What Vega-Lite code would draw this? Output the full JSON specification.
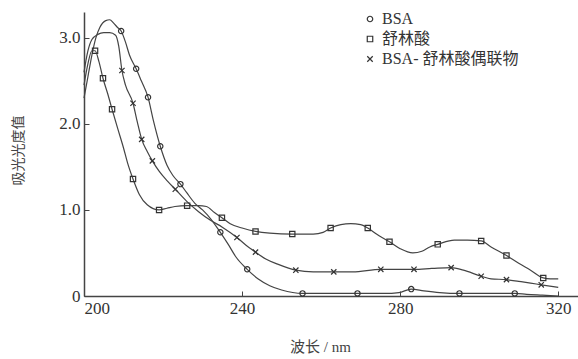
{
  "$schema": "https://vega.github.io/schema/vega-lite/v6.json",
  "width": 494,
  "height": 284,
  "autosize": "none",
  "padding": {"left": 84, "top": 12, "right": 0, "bottom": 63},
  "background": "white",
  "config": {
    "view": {"stroke": null},
    "font": "Liberation Serif"
  },
  "datasets": {
    "curves": [
      {"s": "BSA", "nm": 200, "a": 2.3}, {"s": "BSA", "nm": 201, "a": 2.55}, {"s": "BSA", "nm": 202, "a": 2.8}, {"s": "BSA", "nm": 203, "a": 3.0}, {"s": "BSA", "nm": 204, "a": 3.12}, {"s": "BSA", "nm": 205.5, "a": 3.2}, {"s": "BSA", "nm": 206.5, "a": 3.21}, {"s": "BSA", "nm": 207.5, "a": 3.17}, {"s": "BSA", "nm": 208.5, "a": 3.12}, {"s": "BSA", "nm": 209.4, "a": 3.08}, {"s": "BSA", "nm": 210.5, "a": 2.95}, {"s": "BSA", "nm": 211.5, "a": 2.8}, {"s": "BSA", "nm": 213.2, "a": 2.64}, {"s": "BSA", "nm": 214.5, "a": 2.5}, {"s": "BSA", "nm": 216.2, "a": 2.31}, {"s": "BSA", "nm": 217.5, "a": 2.05}, {"s": "BSA", "nm": 219.3, "a": 1.74}, {"s": "BSA", "nm": 221, "a": 1.52}, {"s": "BSA", "nm": 222.5, "a": 1.4}, {"s": "BSA", "nm": 224.4, "a": 1.3}, {"s": "BSA", "nm": 226, "a": 1.2}, {"s": "BSA", "nm": 228, "a": 1.08}, {"s": "BSA", "nm": 230, "a": 1.0}, {"s": "BSA", "nm": 232, "a": 0.9}, {"s": "BSA", "nm": 234.5, "a": 0.74}, {"s": "BSA", "nm": 236.5, "a": 0.6}, {"s": "BSA", "nm": 238.5, "a": 0.45}, {"s": "BSA", "nm": 241.3, "a": 0.31}, {"s": "BSA", "nm": 244, "a": 0.2}, {"s": "BSA", "nm": 247, "a": 0.12}, {"s": "BSA", "nm": 250, "a": 0.07}, {"s": "BSA", "nm": 255.3, "a": 0.03}, {"s": "BSA", "nm": 262, "a": 0.03}, {"s": "BSA", "nm": 269.2, "a": 0.03}, {"s": "BSA", "nm": 276, "a": 0.03}, {"s": "BSA", "nm": 279.7, "a": 0.04}, {"s": "BSA", "nm": 282.8, "a": 0.08}, {"s": "BSA", "nm": 286, "a": 0.06}, {"s": "BSA", "nm": 290, "a": 0.04}, {"s": "BSA", "nm": 295, "a": 0.03}, {"s": "BSA", "nm": 302, "a": 0.03}, {"s": "BSA", "nm": 309, "a": 0.03}, {"s": "BSA", "nm": 312, "a": 0.02}, {"s": "BSA", "nm": 316, "a": 0.01}, {"s": "BSA", "nm": 320, "a": 0.0},

      {"s": "舒林酸", "nm": 200, "a": 2.45}, {"s": "舒林酸", "nm": 201, "a": 2.7}, {"s": "舒林酸", "nm": 202, "a": 2.85}, {"s": "舒林酸", "nm": 202.8, "a": 2.85}, {"s": "舒林酸", "nm": 203.8, "a": 2.72}, {"s": "舒林酸", "nm": 204.8, "a": 2.53}, {"s": "舒林酸", "nm": 206, "a": 2.35}, {"s": "舒林酸", "nm": 207.1, "a": 2.17}, {"s": "舒林酸", "nm": 208.5, "a": 1.95}, {"s": "舒林酸", "nm": 210, "a": 1.72}, {"s": "舒林酸", "nm": 211, "a": 1.55}, {"s": "舒林酸", "nm": 212.4, "a": 1.36}, {"s": "舒林酸", "nm": 214, "a": 1.18}, {"s": "舒林酸", "nm": 216, "a": 1.06}, {"s": "舒林酸", "nm": 219, "a": 1.0}, {"s": "舒林酸", "nm": 221, "a": 1.02}, {"s": "舒林酸", "nm": 223, "a": 1.04}, {"s": "舒林酸", "nm": 226.1, "a": 1.05}, {"s": "舒林酸", "nm": 229, "a": 1.05}, {"s": "舒林酸", "nm": 231, "a": 1.04}, {"s": "舒林酸", "nm": 233, "a": 0.97}, {"s": "舒林酸", "nm": 234.9, "a": 0.91}, {"s": "舒林酸", "nm": 237, "a": 0.84}, {"s": "舒林酸", "nm": 240, "a": 0.79}, {"s": "舒林酸", "nm": 243.4, "a": 0.75}, {"s": "舒林酸", "nm": 247, "a": 0.73}, {"s": "舒林酸", "nm": 252.7, "a": 0.72}, {"s": "舒林酸", "nm": 258, "a": 0.72}, {"s": "舒林酸", "nm": 260.5, "a": 0.74}, {"s": "舒林酸", "nm": 262.4, "a": 0.79}, {"s": "舒林酸", "nm": 265, "a": 0.83}, {"s": "舒林酸", "nm": 267.5, "a": 0.84}, {"s": "舒林酸", "nm": 270, "a": 0.83}, {"s": "舒林酸", "nm": 271.8, "a": 0.79}, {"s": "舒林酸", "nm": 274, "a": 0.72}, {"s": "舒林酸", "nm": 277.3, "a": 0.63}, {"s": "舒林酸", "nm": 280, "a": 0.55}, {"s": "舒林酸", "nm": 283.2, "a": 0.5}, {"s": "舒林酸", "nm": 285.5, "a": 0.52}, {"s": "舒林酸", "nm": 287.5, "a": 0.57}, {"s": "舒林酸", "nm": 289.5, "a": 0.6}, {"s": "舒林酸", "nm": 293.7, "a": 0.65}, {"s": "舒林酸", "nm": 297, "a": 0.65}, {"s": "舒林酸", "nm": 300.5, "a": 0.64}, {"s": "舒林酸", "nm": 303, "a": 0.57}, {"s": "舒林酸", "nm": 306.9, "a": 0.47}, {"s": "舒林酸", "nm": 310, "a": 0.38}, {"s": "舒林酸", "nm": 313, "a": 0.3}, {"s": "舒林酸", "nm": 316.2, "a": 0.21}, {"s": "舒林酸", "nm": 318, "a": 0.2}, {"s": "舒林酸", "nm": 320, "a": 0.2},

      {"s": "BSA- 舒林酸偶联物", "nm": 200, "a": 2.6}, {"s": "BSA- 舒林酸偶联物", "nm": 201, "a": 2.85}, {"s": "BSA- 舒林酸偶联物", "nm": 202, "a": 2.98}, {"s": "BSA- 舒林酸偶联物", "nm": 203.5, "a": 3.04}, {"s": "BSA- 舒林酸偶联物", "nm": 205, "a": 3.06}, {"s": "BSA- 舒林酸偶联物", "nm": 206.5, "a": 3.06}, {"s": "BSA- 舒林酸偶联物", "nm": 208, "a": 3.03}, {"s": "BSA- 舒林酸偶联物", "nm": 208.8, "a": 2.9}, {"s": "BSA- 舒林酸偶联物", "nm": 209.6, "a": 2.62}, {"s": "BSA- 舒林酸偶联物", "nm": 210.5, "a": 2.45}, {"s": "BSA- 舒林酸偶联物", "nm": 212.4, "a": 2.24}, {"s": "BSA- 舒林酸偶联物", "nm": 213.5, "a": 2.02}, {"s": "BSA- 舒林酸偶联物", "nm": 214.6, "a": 1.82}, {"s": "BSA- 舒林酸偶联物", "nm": 216, "a": 1.68}, {"s": "BSA- 舒林酸偶联物", "nm": 217.3, "a": 1.57}, {"s": "BSA- 舒林酸偶联物", "nm": 219, "a": 1.45}, {"s": "BSA- 舒林酸偶联物", "nm": 221, "a": 1.34}, {"s": "BSA- 舒林酸偶联物", "nm": 223.1, "a": 1.24}, {"s": "BSA- 舒林酸偶联物", "nm": 226, "a": 1.1}, {"s": "BSA- 舒林酸偶联物", "nm": 229, "a": 0.98}, {"s": "BSA- 舒林酸偶联物", "nm": 232, "a": 0.88}, {"s": "BSA- 舒林酸偶联物", "nm": 235, "a": 0.8}, {"s": "BSA- 舒林酸偶联物", "nm": 238.7, "a": 0.68}, {"s": "BSA- 舒林酸偶联物", "nm": 241, "a": 0.59}, {"s": "BSA- 舒林酸偶联物", "nm": 243.4, "a": 0.51}, {"s": "BSA- 舒林酸偶联物", "nm": 246, "a": 0.43}, {"s": "BSA- 舒林酸偶联物", "nm": 249, "a": 0.37}, {"s": "BSA- 舒林酸偶联物", "nm": 253.6, "a": 0.3}, {"s": "BSA- 舒林酸偶联物", "nm": 258, "a": 0.28}, {"s": "BSA- 舒林酸偶联物", "nm": 263.2, "a": 0.28}, {"s": "BSA- 舒林酸偶联物", "nm": 268, "a": 0.28}, {"s": "BSA- 舒林酸偶联物", "nm": 275.1, "a": 0.31}, {"s": "BSA- 舒林酸偶联物", "nm": 279, "a": 0.31}, {"s": "BSA- 舒林酸偶联物", "nm": 283.5, "a": 0.31}, {"s": "BSA- 舒林酸偶联物", "nm": 288, "a": 0.32}, {"s": "BSA- 舒林酸偶联物", "nm": 292.9, "a": 0.33}, {"s": "BSA- 舒林酸偶联物", "nm": 296, "a": 0.3}, {"s": "BSA- 舒林酸偶联物", "nm": 300.5, "a": 0.23}, {"s": "BSA- 舒林酸偶联物", "nm": 303, "a": 0.2}, {"s": "BSA- 舒林酸偶联物", "nm": 306.9, "a": 0.19}, {"s": "BSA- 舒林酸偶联物", "nm": 310, "a": 0.17}, {"s": "BSA- 舒林酸偶联物", "nm": 313, "a": 0.15}, {"s": "BSA- 舒林酸偶联物", "nm": 315.7, "a": 0.13}, {"s": "BSA- 舒林酸偶联物", "nm": 320, "a": 0.1}
    ],
    "markers": [
      {"s": "BSA", "nm": 209.4, "a": 3.08}, {"s": "BSA", "nm": 213.2, "a": 2.64}, {"s": "BSA", "nm": 216.2, "a": 2.31}, {"s": "BSA", "nm": 219.3, "a": 1.74}, {"s": "BSA", "nm": 224.4, "a": 1.3}, {"s": "BSA", "nm": 234.5, "a": 0.74}, {"s": "BSA", "nm": 241.3, "a": 0.31}, {"s": "BSA", "nm": 255.3, "a": 0.03}, {"s": "BSA", "nm": 269.2, "a": 0.03}, {"s": "BSA", "nm": 282.8, "a": 0.08}, {"s": "BSA", "nm": 295, "a": 0.03}, {"s": "BSA", "nm": 309, "a": 0.03},
      {"s": "舒林酸", "nm": 202.8, "a": 2.85}, {"s": "舒林酸", "nm": 204.8, "a": 2.53}, {"s": "舒林酸", "nm": 207.1, "a": 2.17}, {"s": "舒林酸", "nm": 212.4, "a": 1.36}, {"s": "舒林酸", "nm": 219, "a": 1.0}, {"s": "舒林酸", "nm": 226.1, "a": 1.05}, {"s": "舒林酸", "nm": 234.9, "a": 0.91}, {"s": "舒林酸", "nm": 243.4, "a": 0.75}, {"s": "舒林酸", "nm": 252.7, "a": 0.72}, {"s": "舒林酸", "nm": 262.4, "a": 0.79}, {"s": "舒林酸", "nm": 271.8, "a": 0.79}, {"s": "舒林酸", "nm": 277.3, "a": 0.63}, {"s": "舒林酸", "nm": 289.5, "a": 0.6}, {"s": "舒林酸", "nm": 300.5, "a": 0.64}, {"s": "舒林酸", "nm": 306.9, "a": 0.47}, {"s": "舒林酸", "nm": 316.2, "a": 0.21},
      {"s": "BSA- 舒林酸偶联物", "nm": 209.6, "a": 2.62}, {"s": "BSA- 舒林酸偶联物", "nm": 212.4, "a": 2.24}, {"s": "BSA- 舒林酸偶联物", "nm": 214.6, "a": 1.82}, {"s": "BSA- 舒林酸偶联物", "nm": 217.3, "a": 1.57}, {"s": "BSA- 舒林酸偶联物", "nm": 223.1, "a": 1.24}, {"s": "BSA- 舒林酸偶联物", "nm": 238.7, "a": 0.68}, {"s": "BSA- 舒林酸偶联物", "nm": 243.4, "a": 0.51}, {"s": "BSA- 舒林酸偶联物", "nm": 253.6, "a": 0.3}, {"s": "BSA- 舒林酸偶联物", "nm": 263.2, "a": 0.28}, {"s": "BSA- 舒林酸偶联物", "nm": 275.1, "a": 0.31}, {"s": "BSA- 舒林酸偶联物", "nm": 283.5, "a": 0.31}, {"s": "BSA- 舒林酸偶联物", "nm": 292.9, "a": 0.33}, {"s": "BSA- 舒林酸偶联物", "nm": 300.5, "a": 0.23}, {"s": "BSA- 舒林酸偶联物", "nm": 306.9, "a": 0.19}, {"s": "BSA- 舒林酸偶联物", "nm": 315.7, "a": 0.13}
    ]
  },
  "encoding": {
    "x": {
      "field": "nm", "type": "quantitative",
      "scale": {"domain": [200, 325], "nice": false, "zero": false},
      "axis": {
        "values": [200, 240, 280, 320], "grid": false,
        "domainColor": "#444", "domainWidth": 1.5, "tickColor": "#444", "tickSize": -5,
        "labelFont": "Liberation Serif", "labelFontSize": 17, "labelColor": "#333", "labelPadding": 9,
        "labelFlush": true,
        "title": "波长 / nm", "titleFont": "Liberation Serif, Noto Sans CJK SC", "titleFontSize": 15, "titleFontWeight": "normal", "titleColor": "#444",
        "titleX": 236, "titleY": 50, "titleBaseline": "middle"
      }
    },
    "y": {
      "field": "a", "type": "quantitative",
      "scale": {"domain": [0, 3.3], "nice": false},
      "axis": {
        "values": [0, 1, 2, 3], "grid": false,
        "labelExpr": "datum.value == 0 ? '0' : format(datum.value, '.1f')",
        "domainColor": "#444", "domainWidth": 1.5, "tickColor": "#444", "tickSize": -5,
        "labelFont": "Liberation Serif", "labelFontSize": 17, "labelColor": "#333", "labelPadding": 9,
        "labelFlush": false,
        "title": "吸光光度值", "titleFont": "Noto Sans CJK SC", "titleFontSize": 14, "titleFontWeight": "normal", "titleColor": "#444",
        "titleX": -66, "titleY": 138, "titleAngle": -90, "titleAlign": "center", "titleBaseline": "middle"
      }
    }
  },
  "layer": [
    {
      "data": {"name": "curves"},
      "mark": {"type": "line", "interpolate": "monotone", "strokeWidth": 1.2, "color": "#444"},
      "encoding": {"detail": {"field": "s"}}
    },
    {
      "data": {"name": "markers"},
      "mark": {"type": "point", "filled": false, "strokeWidth": 1.2, "color": "#333", "size": 28, "opacity": 1},
      "encoding": {
        "shape": {
          "field": "s", "type": "nominal",
          "scale": {"domain": ["BSA", "舒林酸", "BSA- 舒林酸偶联物"], "range": ["circle", "square", "M-1,-1L1,1M-1,1L1,-1"]},
          "legend": {
            "title": null, "orient": "none", "legendX": 278, "legendY": -1,
            "labelFont": "Liberation Serif, Noto Sans CJK SC", "labelFontSize": 16, "labelColor": "#333",
            "symbolStrokeColor": "#333", "symbolStrokeWidth": 1.2, "symbolSize": 30, "symbolFillColor": "transparent",
            "rowPadding": 4, "labelOffset": 4
          }
        }
      }
    }
  ]
}
